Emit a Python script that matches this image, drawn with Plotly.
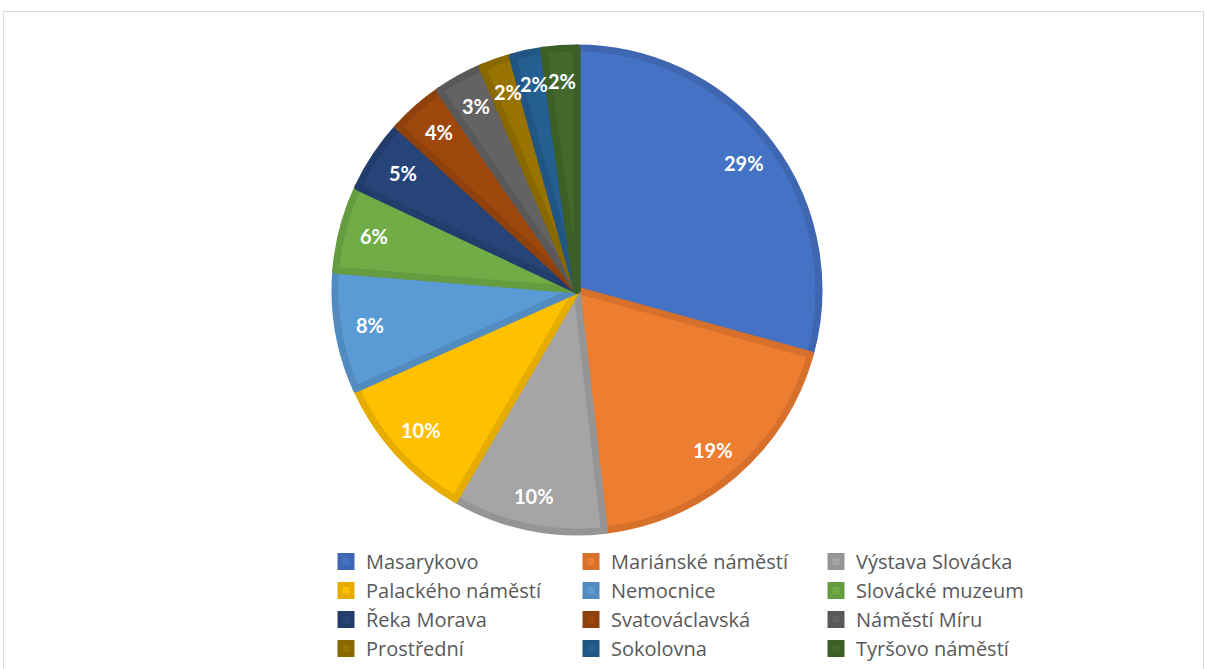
import math
import plotly.graph_objects as go

categories = ["Masarykovo", "Mariánské náměstí", "Výstava Slovácka",
              "Palackého náměstí", "Nemocnice", "Slovácké muzeum",
              "Řeka Morava", "Svatováclavská", "Náměstí Míru",
              "Prostřední", "Sokolovna", "Tyršovo náměstí"]
values = [29.3, 18.9, 10.2, 9.9, 8.0, 5.7, 4.8, 3.6, 3.2, 2.1, 2.1, 2.2]

fill_colors = ["#4472C4", "#ED7D31", "#A5A5A5", "#FFC000", "#5B9BD5", "#70AD47",
               "#264478", "#9E480E", "#636363", "#997300", "#255E91", "#43682B"]
line_colors = ["#3F66B0", "#D6702B", "#959595", "#E6AD00", "#528BC0", "#659C40",
               "#223D6C", "#8E410D", "#595959", "#8A6800", "#215583", "#3C5E27"]

W, H = 1205, 669
ml, mr, mt, mb = 320, 135, 40, 130
pw, ph = W - ml - mr, H - mt - mb

def px_x(x):
    return (x - ml) / pw

def px_y(y):
    return (H - mb - y) / ph

# pie geometry (pixels)
cx, cy = 577, 290
rad = 242
x0, x1 = cx - rad, cx + rad
y0, y1 = cy - rad, cy + rad
label_r = 210

fig = go.Figure(go.Pie(
    labels=categories,
    values=values,
    sort=False,
    direction="clockwise",
    rotation=0,
    marker=dict(colors=fill_colors, line=dict(color=line_colors, width=7)),
    textinfo="none",
    domain=dict(x=[px_x(x0), px_x(x1)], y=[px_y(y1), px_y(y0)]),
    hoverinfo="label+percent",
))

# percentage labels placed on each slice's mid-angle
total = sum(values)
annotations = []
cum = 0.0
for v in values:
    mid = (cum + v / 2) / total * 2 * math.pi
    cum += v
    lx = cx + label_r * math.sin(mid)
    ly = cy - label_r * math.cos(mid)
    annotations.append(dict(
        x=px_x(lx), y=px_y(ly), xref="paper", yref="paper",
        text=f"{round(v / total * 100):d}%", showarrow=False,
        xanchor="center", yanchor="middle",
        font=dict(color="white", size=20, family="Lato", weight="bold"),
    ))

fig.update_layout(
    width=W, height=H,
    margin=dict(l=ml, r=mr, t=mt, b=mb, autoexpand=False),
    paper_bgcolor="white",
    plot_bgcolor="white",
    showlegend=True,
    legend=dict(
        orientation="h",
        x=px_x(326), xanchor="left",
        y=px_y(542), yanchor="top",
        entrywidth=200, entrywidthmode="pixels",
        font=dict(family="Open Sans", size=20, color="#595959"),
        itemclick=False,
        tracegroupgap=0,
    ),
    annotations=annotations,
    shapes=[dict(type="rect", xref="paper", yref="paper",
                 x0=px_x(3.5), x1=px_x(1203.5), y0=px_y(700), y1=px_y(11.5),
                 line=dict(color="#D9D9D9", width=1), fillcolor="rgba(0,0,0,0)")],
)

fig.write_html("out.html", config={"displayModeBar": False},
               post_script="document.body.style.margin='0';document.body.style.overflow='hidden';")
